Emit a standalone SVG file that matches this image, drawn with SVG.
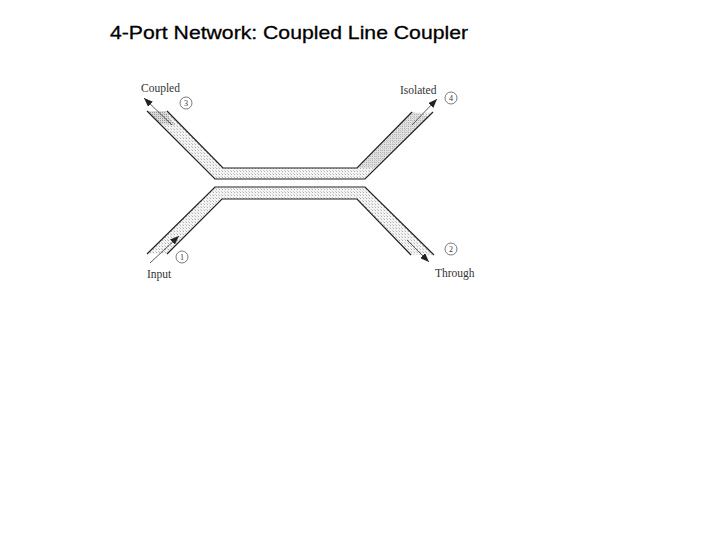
<svg xmlns="http://www.w3.org/2000/svg" width="720" height="540" viewBox="0 0 720 540">
<defs>
<pattern id="dots" width="3" height="3" patternUnits="userSpaceOnUse"><rect width="3" height="3" fill="#f4f4f4"/><rect width="1" height="1" fill="#b0b0b0"/><rect x="2" y="2" width="1" height="1" fill="#cfcfcf"/></pattern>
<pattern id="dark" width="2" height="2" patternUnits="userSpaceOnUse"><rect width="2" height="2" fill="#d8d8d8"/><rect width="1" height="1" fill="#999"/></pattern>
<marker id="ah" viewBox="0 0 9 7" refX="9" refY="3.5" markerWidth="9" markerHeight="7" markerUnits="userSpaceOnUse" orient="auto"><path d="M0 0L9 3.5L0 7z" fill="#222"/></marker>
</defs>
<style>
.edge{fill:none;stroke:#222;stroke-width:1.2}
.arr{fill:none;stroke:#333;stroke-width:.8;marker-end:url(#ah)}
.lab{font:11.5px "Liberation Serif",serif;fill:#333}
.num{font:8px "Liberation Serif",serif;fill:#333;text-anchor:middle}
.port{fill:#fff;stroke:#444;stroke-width:.7}
</style>
<rect width="720" height="540" fill="#fff"/>
<text x="110" y="39" textLength="358" lengthAdjust="spacingAndGlyphs" style="font:19px 'Liberation Sans',sans-serif;fill:#000;stroke:#000;stroke-width:.3">4-Port Network: Coupled Line Coupler</text>
<g id="upper-line">
<path d="M147 111L215 179H365L433 112H412L357 168H223L167 111Z" fill="url(#dots)"/>
<path d="M412 112L357 168L375 168L428 116Z" fill="url(#dark)" opacity=".6"/>
<path d="M147 111L165 111L175 125L160 124Z" fill="url(#dark)"/>
<path class="edge" d="M147 111L215 179H365L433 112"/>
<path class="edge" d="M167 111L223 168H357L412 112"/>
</g>
<g id="lower-line">
<path d="M147 254L215 187H365L434 255H411L357 199H222L167 254Z" fill="url(#dots)"/>
<path class="edge" d="M147 254L215 187H365L434 255"/>
<path class="edge" d="M167 254L222 199H357L411 255"/>
</g>
<g id="connectors">
<path class="arr" d="M172 125L144 98"/>
<path class="arr" d="M412 125L437 99"/>
<path class="arr" d="M150 263L179 236"/>
<path class="arr" d="M407 240L429 262"/>
</g>
<g id="port-3"><text class="lab" x="141" y="92">Coupled</text><circle class="port" cx="186" cy="103" r="6"/><text class="num" x="186" y="106">3</text></g>
<g id="port-4"><text class="lab" x="400" y="94">Isolated</text><circle class="port" cx="451" cy="98" r="6"/><text class="num" x="451" y="101">4</text></g>
<g id="port-1"><text class="lab" x="147" y="278">Input</text><circle class="port" cx="182" cy="257" r="6"/><text class="num" x="182" y="260">1</text></g>
<g id="port-2"><text class="lab" x="435" y="277">Through</text><circle class="port" cx="451" cy="249" r="6"/><text class="num" x="451" y="252">2</text></g>
</svg>
